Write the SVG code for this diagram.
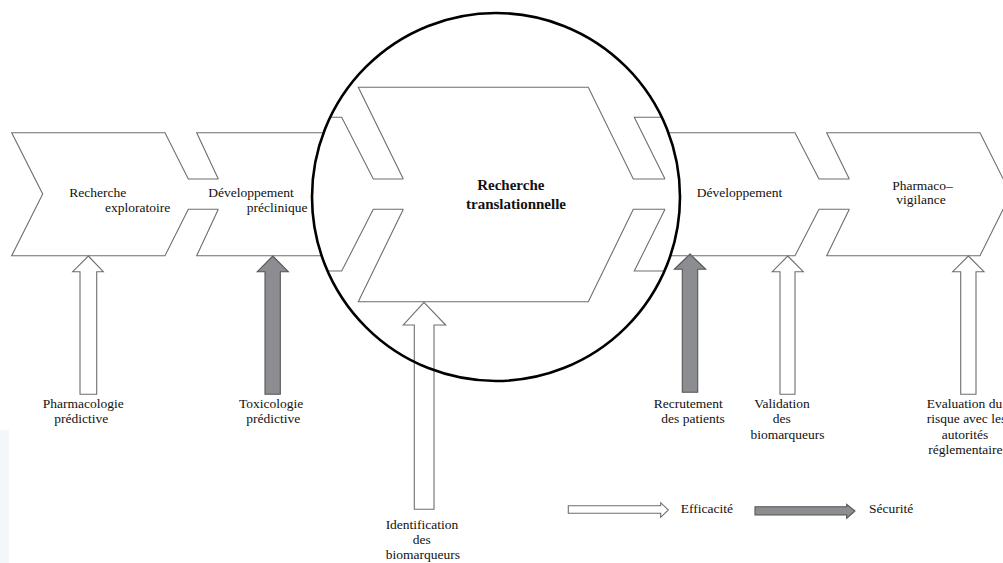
<svg xmlns="http://www.w3.org/2000/svg" width="1003" height="563" viewBox="0 0 1003 563">
<style>
.ln{fill:none;stroke:#6e6e6e;stroke-width:1.1}
.t{font-family:"Liberation Serif","Times New Roman",serif;font-size:13.5px;fill:#111}
.m{text-anchor:middle}
.b{font-weight:bold;font-size:15px}
.aw{fill:#fff;stroke:#6e6e6e;stroke-width:1.1}
.ag{fill:#8b8d90;stroke:#555;stroke-width:1.1}
</style>
<defs>
<clipPath id="lens"><circle cx="496" cy="197" r="184"/></clipPath>
</defs>
<rect width="1003" height="563" fill="#fff"/>
<rect x="0" y="430" width="9" height="133" fill="#f4f7f9"/>
<g id="connectors">
<g id="c-pharmacologie"><path class="aw" d="M88.3,256 L103.3,271.7 H96.7 V394.3 H80 V271.7 H72.7 Z"/></g>
<g id="c-toxicologie"><path class="ag" d="M272.7,256 L288.3,271.7 H280.3 V394.3 H265 V271.7 H257.3 Z"/></g>
<g id="c-recrutement"><path class="ag" d="M690,254 L705.7,269.3 H697.7 V392.3 H682.3 V269.3 H674.3 Z"/></g>
<g id="c-validation"><path class="aw" d="M787.7,256 L803.3,271.7 H795 V394.3 H780 V271.7 H772.3 Z"/></g>
<g id="c-evaluation"><path class="aw" d="M968.3,256 L984,271.7 H976 V394.3 H960.7 V271.7 H952.7 Z"/></g>
</g>
<g id="n-exploratoire">
<path class="ln" d="M218.3,179 H188.3 L165,132.7 H11.7 L42.7,194 L11.7,255.7 H165 L188.3,209.3 H218.3"/>
<text class="t" x="69.3" y="197.3">Recherche</text>
<text class="t" x="105" y="211.7">exploratoire</text>
</g>
<g id="n-preclinique">
<path class="ln" d="M218.3,179 L196.7,132.7 H340 M218.3,209.3 L196.7,255.7 H340"/>
<text class="t" x="208.3" y="197.3">Développement</text>
<text class="t" x="246.7" y="211.7">préclinique</text>
</g>
<g id="n-developpement">
<path class="ln" d="M645,132.7 H795 L819,179 H849.3 M645,255.7 H795 L819,209.3 H849.3"/>
<text class="t" x="696.7" y="197.3">Développement</text>
</g>
<g id="n-pharmacovigilance">
<path class="ln" d="M849.3,179 L826.7,132.7 H980 L1010.7,194 L980,255.7 H826.7 L849.3,209.3"/>
<text class="t m" x="922.5" y="190">Pharmaco–</text>
<text class="t m" x="921" y="204.3">vigilance</text>
</g>
<g id="n-translationnelle">
<circle cx="496" cy="197" r="184" fill="#fff"/>
<g clip-path="url(#lens)">
<path class="ln" d="M300,117.3 H341.7 L373.3,179 H403.3 M300,271 H341.7 L373.3,209.3 H403.3"/>
<path class="ln" d="M403.3,179 L358.3,87.3 H588.3 L633.3,179 H665 M403.3,209.3 L358.3,301.7 H588.3 L633.3,209.3 H665"/>
<path class="ln" d="M665,179 L634.3,117.3 H700 M665,209.3 L634.3,271 H700"/>
</g>
<text class="t b m" x="510.8" y="190">Recherche</text>
<text class="t b m" x="516" y="209">translationnelle</text>
</g>
<g id="c-identification"><path class="aw" d="M424,302.3 L445.7,325 H434 V509.3 H414.3 V325 H403.3 Z"/></g>
<circle cx="496" cy="197" r="184" fill="none" stroke="#000" stroke-width="2.6"/>
<g id="labels">
<text class="t m" x="83.3" y="408.3">Pharmacologie</text>
<text class="t m" x="81.3" y="423.3">prédictive</text>
<text class="t m" x="271.2" y="408.3">Toxicologie</text>
<text class="t m" x="273.3" y="423.3">prédictive</text>
<text class="t m" x="422" y="528.5">Identification</text>
<text class="t m" x="421.7" y="543.5">des</text>
<text class="t m" x="422.8" y="558.5">biomarqueurs</text>
<text class="t m" x="688.3" y="408.3">Recrutement</text>
<text class="t m" x="693" y="423.3">des patients</text>
<text class="t m" x="782" y="408.3">Validation</text>
<text class="t m" x="781.7" y="423.3">des</text>
<text class="t m" x="787.5" y="438.5">biomarqueurs</text>
<text class="t m" x="964.5" y="408.3">Evaluation du</text>
<text class="t m" x="966.5" y="423.3">risque avec les</text>
<text class="t m" x="965" y="438.5">autorités</text>
<text class="t m" x="968" y="453.5">réglementaires</text>
</g>
<g id="legend">
<path class="aw" d="M568.3,505.7 H660.7 V502.7 L668.3,510 L660.7,517.3 V513.3 H568.3 Z"/>
<text class="t" x="680.7" y="512.7">Efficacité</text>
<path class="ag" d="M755,506.7 H846.7 V504.3 L855,511 L846.7,518.3 V515 H755 Z"/>
<text class="t" x="869" y="512.7">Sécurité</text>
</g>
</svg>
